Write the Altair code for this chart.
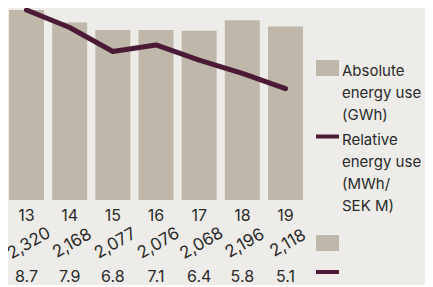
import altair as alt
import pandas as pd

years = ["13", "14", "15", "16", "17", "18", "19"]
absolute_gwh = [2320, 2168, 2077, 2076, 2068, 2196, 2118]
relative_mwh = [8.7, 7.9, 6.8, 7.1, 6.4, 5.8, 5.1]
legend_abs = ["Absolute", "energy use", "(GWh)"]
legend_rel = ["Relative", "energy use", "(MWh/", "SEK M)"]

BG = "#EEECE8"
BAR = "#BFB7AA"
LINE = "#4B1A36"
TXT = "#2A2A2A"
FONT = "Inter"

df = pd.DataFrame({"year": years, "abs": absolute_gwh, "rel": relative_mwh})
one = pd.DataFrame({"k": [0]})

xenc = alt.X("year:N", sort=years, axis=None,
             scale=alt.Scale(paddingInner=0.19, paddingOuter=0))

base = alt.Chart(df)

bars = base.mark_bar(color=BAR).encode(
    x=xenc,
    y=alt.Y("abs:Q", axis=None, scale=alt.Scale(domain=[0, 2320], nice=False, zero=True)),
)

line = base.mark_line(color=LINE, strokeWidth=5, strokeCap="round", strokeJoin="round").encode(
    x=xenc,
    y=alt.Y("rel:Q", axis=None, scale=alt.Scale(domain=[0, 8.7], nice=False, zero=True)),
)

year_txt = base.mark_text(fontSize=16, font=FONT, color=TXT, baseline="alphabetic").encode(
    x=xenc, y=alt.value(211), text="year:N"
)
abs_txt = base.mark_text(fontSize=17, font=FONT, color=TXT, angle=330, baseline="middle", dx=3).encode(
    x=xenc, y=alt.value(235), text=alt.Text("abs:Q", format=",")
)
rel_txt = base.mark_text(fontSize=16, font=FONT, color=TXT, baseline="alphabetic").encode(
    x=xenc, y=alt.value(272), text=alt.Text("rel:Q", format=".1f")
)

lg = alt.Chart(one)
sw1 = lg.mark_rect(color=BAR).encode(x=alt.value(307), x2=alt.value(330), y=alt.value(50), y2=alt.value(66))
sw2 = lg.mark_rule(color=LINE, strokeWidth=4).encode(x=alt.value(307), x2=alt.value(330), y=alt.value(126.5))
sw3 = lg.mark_rect(color=BAR).encode(x=alt.value(307), x2=alt.value(330), y=alt.value(225), y2=alt.value(241))
sw4 = lg.mark_rule(color=LINE, strokeWidth=4).encode(x=alt.value(307), x2=alt.value(330), y=alt.value(262))
t1 = lg.mark_text(fontSize=15, font=FONT, color=TXT, align="left", baseline="alphabetic", lineHeight=22).encode(
    x=alt.value(333), y=alt.value(66), text=alt.value(legend_abs))
t2 = lg.mark_text(fontSize=15, font=FONT, color=TXT, align="left", baseline="alphabetic", lineHeight=22).encode(
    x=alt.value(333), y=alt.value(135), text=alt.value(legend_rel))

chart = alt.layer(
    bars, line, year_txt, abs_txt, rel_txt, sw1, sw2, sw3, sw4, t1, t2
).resolve_scale(y="independent").properties(
    width=294, height=190,
    autosize=alt.AutoSizeParams(type="none"),
    padding={"left": 1, "top": 2, "right": 122, "bottom": 85},
    background=BG,
).configure_view(stroke=None)

chart.save("out.html", embed_options={"renderer": "svg", "actions": False})
